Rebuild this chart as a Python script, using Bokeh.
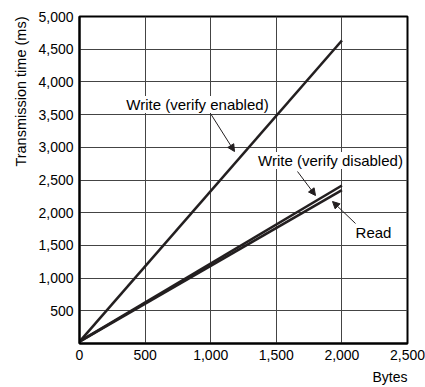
import numpy as np
from bokeh.plotting import figure
from bokeh.models import Label, Arrow, NormalHead, FixedTicker, Title
from bokeh.embed import file_html
from bokeh.resources import INLINE

# Data
bytes_x = [0, 2000]
write_enabled = [30, 4633]
write_disabled = [30, 2416]
read = [30, 2345]

x_ticks = [0, 500, 1000, 1500, 2000, 2500]
y_ticks = [500, 1000, 1500, 2000, 2500, 3000, 3500, 4000, 4500, 5000]

FONT = "Liberation Sans"
INK = "#231f20"

p = figure(frame_width=328, frame_height=327, width=425, height=387,
           x_range=(0, 2500), y_range=(0, 5000),
           min_border_left=79, min_border_right=18, min_border_top=16, min_border_bottom=44,
           output_backend="svg", toolbar_location=None)

p.outline_line_color = "black"
p.outline_line_width = 2
p.background_fill_color = "white"

for ax in (p.xaxis[0], p.yaxis[0]):
    ax.major_tick_out = 0
    ax.major_tick_in = 0
    ax.minor_tick_out = 0
    ax.minor_tick_in = 0
    ax.axis_line_color = "black"
    ax.axis_line_width = 2
    ax.major_label_text_font = FONT
    ax.major_label_text_font_size = "14px"
    ax.major_label_text_color = "black"

p.xaxis.ticker = FixedTicker(ticks=x_ticks)
p.yaxis.ticker = FixedTicker(ticks=y_ticks)
p.xaxis.major_label_overrides = {0: "0", 500: "500", 1000: "1,000", 1500: "1,500", 2000: "2,000", 2500: "2,500"}
p.yaxis.major_label_overrides = {t: f"{t:,}" for t in y_ticks}
p.xaxis.major_label_standoff = 6
p.yaxis.major_label_standoff = 6

p.xgrid.ticker = FixedTicker(ticks=x_ticks)
p.ygrid.ticker = FixedTicker(ticks=y_ticks)
p.grid.grid_line_color = "#444444"
p.grid.grid_line_width = 1
p.grid.grid_line_alpha = 1

p.add_layout(Title(text="Transmission time (ms)", align="right", text_font=FONT,
                   text_font_size="14.5px", text_font_style="normal", text_color="black",
                   standoff=13), "left")
p.add_layout(Title(text="Bytes", align="right", text_font=FONT,
                   text_font_size="14px", text_font_style="normal", text_color="black",
                   standoff=9), "below")

p.line(bytes_x, write_enabled, line_color=INK, line_width=2.6)
p.line(bytes_x, write_disabled, line_color=INK, line_width=2.6)
p.line(bytes_x, read, line_color=INK, line_width=2.6)

def px2x(px):
    return (px - 79) / 328 * 2500

def py2y(py):
    return (343 - py) / 327 * 5000

def lab(text, px, py, **kw):
    p.add_layout(Label(x=px2x(px), y=py2y(py), text=text, text_font=FONT,
                       text_font_size="15px", text_color="black",
                       text_align="center", text_baseline="middle",
                       background_fill_color="white", background_fill_alpha=1, **kw))

lab("Write (verify enabled)", 197, 104)
lab("Write (verify disabled)", 330, 160)
lab("Read", 373, 232)

def arrow(x0, y0, x1, y1):
    p.add_layout(Arrow(x_start=px2x(x0), y_start=py2y(y0), x_end=px2x(x1), y_end=py2y(y1),
                       line_color=INK, line_width=1,
                       end=NormalHead(size=7, line_color=INK, fill_color=INK, line_width=1)))

arrow(210, 113, 234, 151)
arrow(297, 171, 315, 195)
arrow(355, 223, 332, 201)

open("out.html", "w").write(file_html(p, INLINE))
